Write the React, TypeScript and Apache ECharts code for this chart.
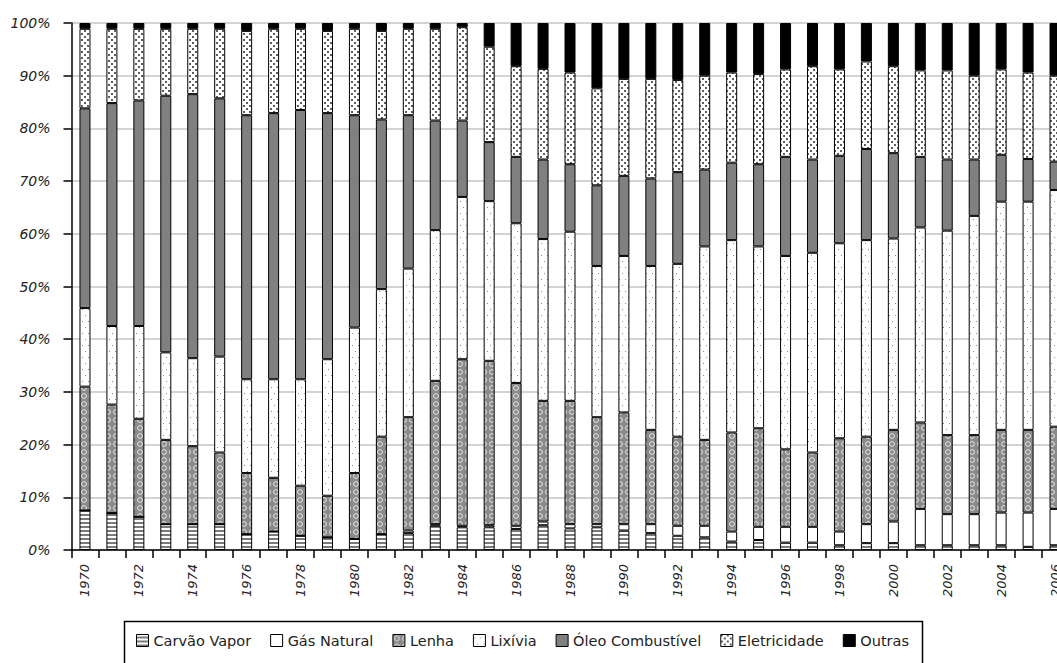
import React, { useEffect, useRef } from "react";
import * as echarts from "echarts";

const years = [
  "1970","1971","1972","1973","1974","1975","1976","1977","1978","1979",
  "1980","1981","1982","1983","1984","1985","1986","1987","1988","1989",
  "1990","1991","1992","1993","1994","1995","1996","1997","1998","1999",
  "2000","2001","2002","2003","2004","2005","2006",
];

const carvaoVapor = [7.5,7.0,6.3,4.9,4.9,4.9,3.0,3.5,2.7,2.4,2.1,3.0,3.2,4.6,4.3,4.3,4.0,4.7,4.1,4.3,3.7,3.2,2.7,2.4,1.6,1.9,1.4,1.4,0.9,1.3,1.3,0.9,0.9,0.9,0.9,0.6,0.9];
const gasNatural = [0,0,0,0,0,0,0,0,0,0,0,0,0.5,0.3,0.3,0.4,0.6,0.7,0.8,0.6,1.2,1.7,1.9,2.2,1.9,2.5,3.0,3.0,2.6,3.6,4.1,6.9,5.9,5.9,6.2,6.5,6.9];
const lenha = [23.5,20.6,18.6,16.0,14.8,13.6,11.6,10.2,9.5,7.9,12.5,18.5,21.5,27.2,31.6,31.2,27.1,22.9,23.4,20.3,21.2,17.9,16.9,16.3,18.8,18.7,14.7,14.1,17.7,16.6,17.4,16.4,15.0,15.0,15.7,15.7,15.6];
const lixivia = [14.9,14.9,17.6,16.6,16.7,18.2,17.8,18.7,20.2,25.9,27.6,28.0,28.2,28.6,30.8,30.3,30.3,30.7,32.1,28.7,29.7,31.1,32.8,36.7,36.5,34.5,36.7,37.9,37.0,37.3,36.3,37.0,38.8,41.6,43.3,43.3,44.9];
const oleoCombustivel = [37.9,42.3,42.8,48.7,50.1,49.0,50.1,50.5,51.1,46.7,40.3,32.2,29.1,20.8,14.5,11.2,12.6,15.1,12.8,15.3,15.2,16.6,17.4,14.6,14.7,15.6,18.8,17.7,16.6,17.3,16.2,13.4,13.5,10.7,8.9,8.1,5.4];
const eletricidade = [15.1,14.1,13.6,12.7,12.4,13.2,16.0,16.0,15.4,15.6,16.4,16.8,16.4,17.4,17.7,18.1,17.2,17.2,17.4,18.4,18.4,18.9,17.5,17.8,17.1,17.1,16.6,17.7,16.4,16.6,16.5,16.4,16.9,15.9,16.2,16.4,16.3];
const outras = [1.1,1.1,1.1,1.1,1.1,1.1,1.5,1.1,1.1,1.5,1.1,1.5,1.1,1.1,0.8,4.5,8.2,8.7,9.4,12.4,10.6,10.6,10.8,10.0,9.4,9.7,8.8,8.2,8.8,7.3,8.2,9.0,9.0,10.0,8.8,9.4,10.0];

const seriesNames = ["Carvão Vapor","Gás Natural","Lenha","Lixívia","Óleo Combustível","Eletricidade","Outras"];
const yTicks = [0,10,20,30,40,50,60,70,80,90,100];

function makeCanvas(w: number, h: number, draw: (ctx: CanvasRenderingContext2D) => void) {
  const c = document.createElement("canvas");
  c.width = w;
  c.height = h;
  const ctx = c.getContext("2d")!;
  draw(ctx);
  return c;
}

export default function App() {
  const ref = useRef<HTMLDivElement>(null);
  useEffect(() => {
    if (!ref.current) return;
    const chart = echarts.init(ref.current, undefined, { renderer: "svg" });

    const stripes = makeCanvas(4, 4, (ctx) => {
      ctx.fillStyle = "#ffffff";
      ctx.fillRect(0, 0, 4, 4);
      ctx.fillStyle = "#7a7a7a";
      ctx.fillRect(0, 2, 4, 2);
    });
    const circles = makeCanvas(8, 8, (ctx) => {
      ctx.fillStyle = "#8a8a8a";
      ctx.fillRect(0, 0, 8, 8);
      ctx.strokeStyle = "#e6e6e6";
      ctx.lineWidth = 1;
      ctx.beginPath();
      ctx.arc(4, 4, 2.4, 0, Math.PI * 2);
      ctx.stroke();
    });
    const sparseDots = makeCanvas(6, 12, (ctx) => {
      ctx.fillStyle = "#ffffff";
      ctx.fillRect(0, 0, 6, 12);
      ctx.fillStyle = "#8a8a8a";
      ctx.fillRect(1, 3, 1, 1);
      ctx.fillRect(4, 9, 1, 1);
    });
    const squares = makeCanvas(6, 6, (ctx) => {
      ctx.fillStyle = "#ffffff";
      ctx.fillRect(0, 0, 6, 6);
      ctx.fillStyle = "#5e5e5e";
      ctx.fillRect(0, 0, 2, 2);
      ctx.fillRect(3, 3, 2, 2);
    });

    const fills: any[] = [
      { image: stripes, repeat: "repeat" },
      "#ffffff",
      { image: circles, repeat: "repeat" },
      { image: sparseDots, repeat: "repeat" },
      "#808080",
      { image: squares, repeat: "repeat" },
      "#000000",
    ];
    const datasets = [carvaoVapor, gasNatural, lenha, lixivia, oleoCombustivel, eletricidade, outras];

    const font = "'DejaVu Sans', sans-serif";

    chart.setOption({
      animation: false,
      backgroundColor: "#ffffff",
      grid: { left: 71.5, right: 11.5, top: 23, bottom: 113, containLabel: false },
      xAxis: {
        type: "category",
        data: years,
        boundaryGap: true,
        axisLine: { lineStyle: { color: "#000", width: 1.5 } },
        axisTick: { show: true, interval: 0, length: 8, lineStyle: { color: "#000", width: 1.5 } },
        axisLabel: {
          interval: 1,
          rotate: 90,
          margin: 14,
          fontSize: 13,
          fontStyle: "italic",
          color: "#222",
          fontFamily: font,
        },
      },
      yAxis: {
        type: "value",
        min: 0,
        max: 100,
        interval: 10,
        axisLine: { show: true, lineStyle: { color: "#000", width: 1.5 } },
        axisTick: { show: true, length: 8, lineStyle: { color: "#000", width: 1.5 } },
        axisLabel: {
          formatter: (v: number) => (yTicks.includes(v) ? v + "%" : ""),
          margin: 21,
          fontSize: 14,
          fontStyle: "italic",
          color: "#222",
          fontFamily: font,
        },
        splitLine: { show: true, lineStyle: { color: "#c4c4c4", width: 1.5 } },
      },
      legend: {
        left: 131,
        top: 628,
        itemWidth: 12,
        itemHeight: 12,
        itemGap: 19,
        icon: "rect",
        data: seriesNames,
        itemStyle: { borderColor: "#000", borderWidth: 1 },
        textStyle: { fontSize: 14.5, color: "#222", fontFamily: font },
      },
      graphic: [
        {
          type: "rect",
          left: 122,
          top: 619,
          shape: { width: 798, height: 60 },
          style: { fill: "none", stroke: "#000", lineWidth: 1.5 },
          silent: true,
          z: 0,
        },
      ],
      series: seriesNames.map((name, i) => ({
        name,
        type: "bar",
        stack: "total",
        barWidth: 11,
        data: datasets[i],
        itemStyle: { color: fills[i], borderColor: "#000", borderWidth: 1 },
      })),
    });

    return () => chart.dispose();
  }, []);

  return (
    <div style={{ position: "absolute", left: 0, top: 0, width: 1057, height: 663, overflow: "hidden", background: "#fff" }}>
      <div ref={ref} style={{ width: 1080, height: 663 }} />
    </div>
  );
}
